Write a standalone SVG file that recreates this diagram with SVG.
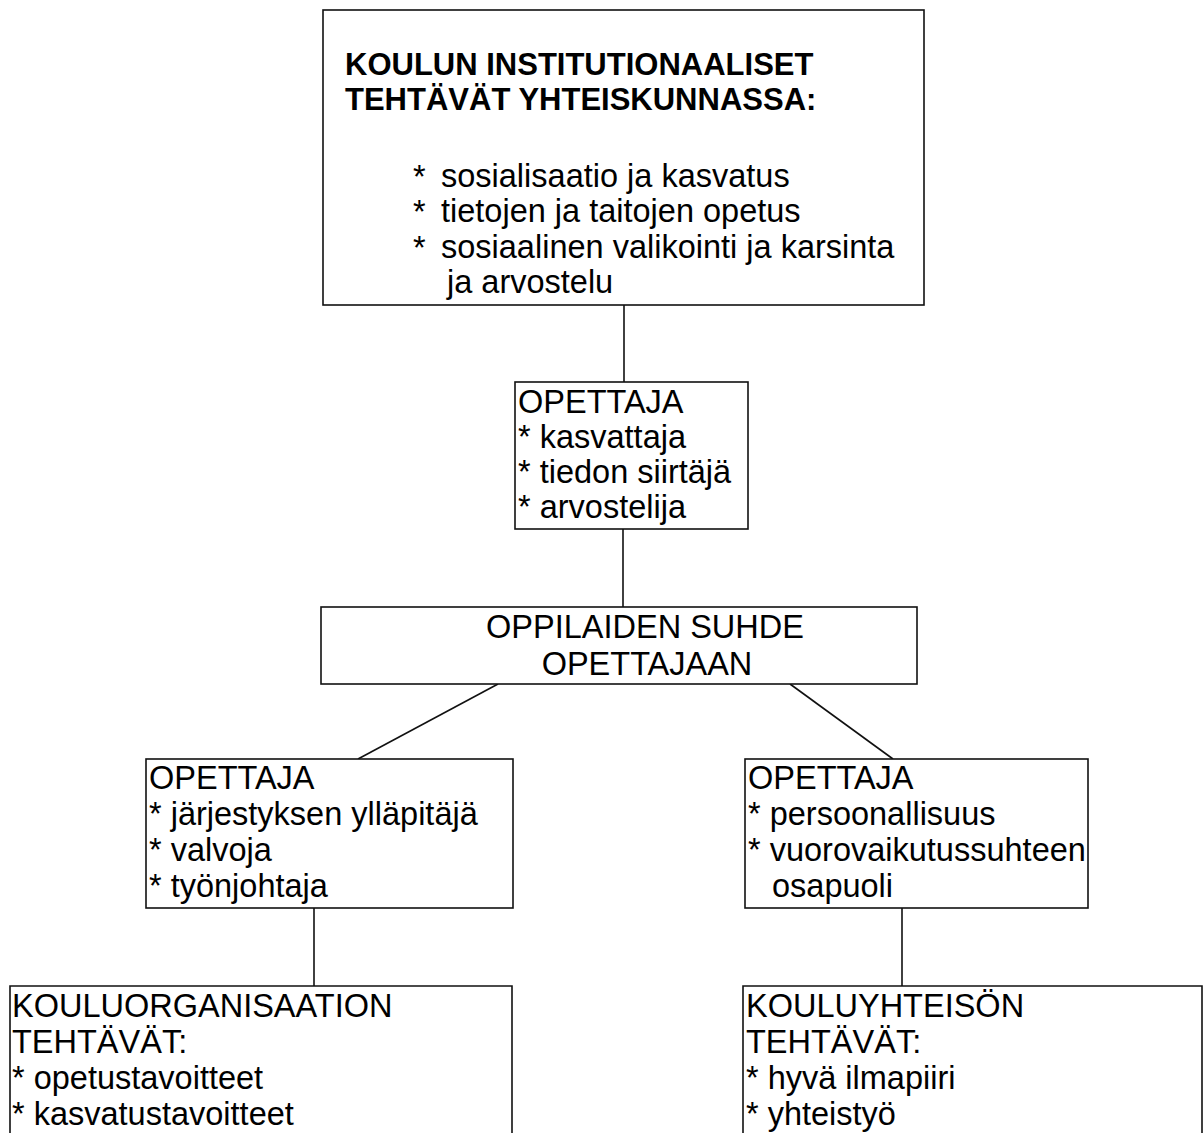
<svg xmlns="http://www.w3.org/2000/svg" width="1203" height="1133" viewBox="0 0 1203 1133">
<style>
.box{fill:#fff;stroke:#111;stroke-width:1.6}
.ln{stroke:#111;stroke-width:1.6;fill:none}
text{font-family:"Liberation Sans",Arial,sans-serif;font-size:32.5px;fill:#000}
.b{font-weight:bold;font-size:31px}
</style>
<rect width="1203" height="1133" fill="#fff"/>
<g id="connectors">
<line class="ln" x1="624" y1="305" x2="624" y2="382"/>
<line class="ln" x1="623" y1="529" x2="623" y2="607"/>
<line class="ln" x1="498" y1="684" x2="358" y2="759"/>
<line class="ln" x1="790" y1="684" x2="893" y2="759"/>
<line class="ln" x1="314" y1="908" x2="314" y2="986"/>
<line class="ln" x1="902" y1="908" x2="902" y2="986"/>
</g>
<g id="n-koulu">
<rect class="box" x="323" y="10" width="601" height="295"/>
<text class="b" x="345" y="75">KOULUN INSTITUTIONAALISET</text>
<text class="b" x="345" y="110">TEHTÄVÄT YHTEISKUNNASSA:</text>
<text x="413" y="188">*</text><text x="441" y="187">sosialisaatio ja kasvatus</text>
<text x="413" y="223">*</text><text x="441" y="222">tietojen ja taitojen opetus</text>
<text x="413" y="259">*</text><text x="441" y="258">sosiaalinen valikointi ja karsinta</text>
<text x="447" y="293">ja arvostelu</text>
</g>
<g id="n-opettaja1">
<rect class="box" x="515" y="382" width="233" height="147"/>
<text x="518" y="413">OPETTAJA</text>
<text x="518" y="448">* kasvattaja</text>
<text x="518" y="483">* tiedon siirtäjä</text>
<text x="518" y="518">* arvostelija</text>
</g>
<g id="n-oppilaiden">
<rect class="box" x="321" y="607" width="596" height="77"/>
<text x="645" y="638" text-anchor="middle">OPPILAIDEN SUHDE</text>
<text x="647" y="675" text-anchor="middle">OPETTAJAAN</text>
</g>
<g id="n-opettaja2">
<rect class="box" x="146" y="759" width="367" height="149"/>
<text x="149" y="789">OPETTAJA</text>
<text x="149" y="825">* järjestyksen ylläpitäjä</text>
<text x="149" y="861">* valvoja</text>
<text x="149" y="897">* työnjohtaja</text>
</g>
<g id="n-opettaja3">
<rect class="box" x="745" y="759" width="343" height="149"/>
<text x="748" y="789">OPETTAJA</text>
<text x="748" y="825">* persoonallisuus</text>
<text x="748" y="861">* vuorovaikutussuhteen</text>
<text x="772" y="897">osapuoli</text>
</g>
<g id="n-kouluorganisaatio">
<path class="ln" d="M10,1133 V986 H512 V1133"/>
<text x="12" y="1017">KOULUORGANISAATION</text>
<text x="12" y="1053">TEHTÄVÄT:</text>
<text x="12" y="1089">* opetustavoitteet</text>
<text x="12" y="1125">* kasvatustavoitteet</text>
</g>
<g id="n-kouluyhteiso">
<path class="ln" d="M743,1133 V986 H1202 V1133"/>
<text x="746" y="1017">KOULUYHTEISÖN</text>
<text x="746" y="1053">TEHTÄVÄT:</text>
<text x="746" y="1089">* hyvä ilmapiiri</text>
<text x="746" y="1125">* yhteistyö</text>
</g>
</svg>
